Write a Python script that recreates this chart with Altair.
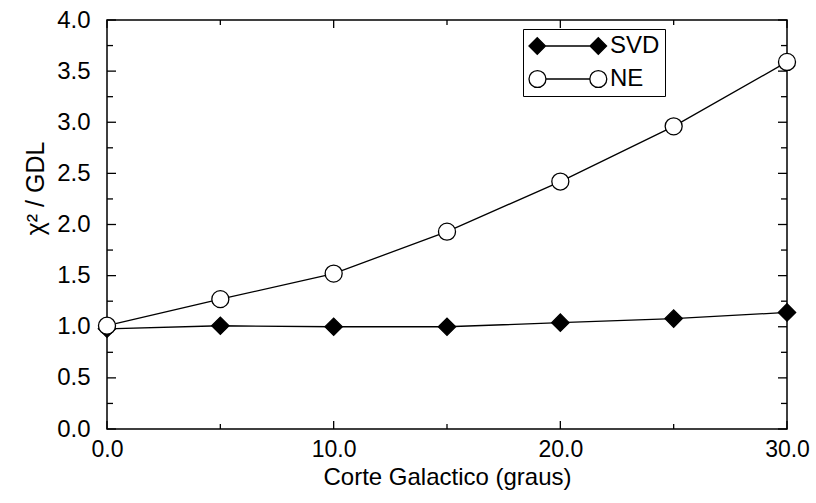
import altair as alt
import pandas as pd

# ---- data ----
cut_deg = [0, 5, 10, 15, 20, 25, 30]
svd_vals = [0.98, 1.01, 1.00, 1.00, 1.04, 1.08, 1.14]
ne_vals = [1.01, 1.27, 1.52, 1.93, 2.42, 2.96, 3.59]
series_names = ["SVD", "NE"]
x_major = [0, 10, 20, 30]
x_minor = [5, 15, 25]
y_major = [0.0, 0.5, 1.0, 1.5, 2.0, 2.5, 3.0, 3.5, 4.0]
y_minor = [0.25, 0.75, 1.25, 1.75, 2.25, 2.75, 3.25, 3.75]

rows = []
for name, vals in zip(series_names, [svd_vals, ne_vals]):
    for xv, yv in zip(cut_deg, vals):
        rows.append({"x": xv, "y": yv, "series": name})
df = pd.DataFrame(rows)

W, H = 680, 409
FONT = "Liberation Sans"
xs = alt.Scale(domain=[0, 30], nice=False, zero=False)
ys = alt.Scale(domain=[0, 4], nice=False, zero=False)

x_axis = alt.Axis(values=x_major, format=".1f", grid=False, domain=False, ticks=False,
                  labelFlush=False, labelOverlap=False,
                  labelFont=FONT, labelFontSize=23, labelColor="black", labelPadding=9,
                  title="Corte Galactico (graus)", titleFont=FONT, titleFontSize=24,
                  titleFontWeight="normal", titleColor="black",
                  titleBaseline="alphabetic", titleY=55)
y_axis = alt.Axis(values=y_major, format=".1f", grid=False, domain=False, ticks=False,
                  labelFlush=False, labelOverlap=False,
                  labelFont=FONT, labelFontSize=24, labelColor="black", labelPadding=17,
                  title="χ² / GDL", titleFont=FONT, titleFontSize=25,
                  titleFontWeight="normal", titleColor="black",
                  titleAngle=270, titleAlign="center",
                  titleBaseline="alphabetic", titleX=-64, titleY=168)

# legend symbols: marker - line - marker (path in symbol units)
svd_path = ("M-1,0L-0.25,-0.75L0.5,0L-0.25,0.75Z M0.5,0L4.55,0 "
            "M4.55,0L5.3,-0.75L6.05,0L5.3,0.75Z")
ne_path = ("M-1,0A0.77,0.77,0,1,0,0.54,0A0.77,0.77,0,1,0,-1,0Z M0.54,0L4.53,0 "
           "M4.53,0A0.77,0.77,0,1,0,6.07,0A0.77,0.77,0,1,0,4.53,0Z")

legend_kw = dict(
    title=None, orient="none", legendX=416, legendY=9,
    strokeColor="black", fillColor="white", padding=5,
    symbolSize=484, symbolStrokeWidth=1.3, symbolOpacity=1,
    labelFont="Liberation Sans Narrow, Liberation Sans",
    labelFontSize=24, labelColor="black", labelOffset=58, rowPadding=9,
)

base = alt.Chart(df)

lines = base.mark_line(color="black", strokeWidth=1.3).encode(
    x=alt.X("x:Q", scale=xs, axis=x_axis),
    y=alt.Y("y:Q", scale=ys, axis=y_axis),
    detail="series:N",
)

svd_pts = base.transform_filter(alt.datum.series == "SVD").mark_point(
    shape="diamond", filled=True, fill="black", stroke="black",
    strokeWidth=1.3, opacity=1, size=300,
).encode(x=alt.X("x:Q", scale=xs), y=alt.Y("y:Q", scale=ys))

ne_pts = base.transform_filter(alt.datum.series == "NE").mark_point(
    shape="circle", filled=True, fill="white", stroke="black",
    strokeWidth=1.3, opacity=1, size=290,
).encode(x=alt.X("x:Q", scale=xs), y=alt.Y("y:Q", scale=ys))

legend_layer = base.transform_filter("false").mark_point(
    filled=True, strokeWidth=1.3,
).encode(
    x=alt.X("x:Q", scale=xs),
    y=alt.Y("y:Q", scale=ys),
    shape=alt.Shape("series:N", scale=alt.Scale(domain=series_names, range=[svd_path, ne_path]),
                    legend=alt.Legend(**legend_kw)),
    fill=alt.Fill("series:N", scale=alt.Scale(domain=series_names, range=["black", "white"]),
                  legend=alt.Legend(**legend_kw)),
    stroke=alt.Stroke("series:N", scale=alt.Scale(domain=series_names, range=["black", "black"]),
                      legend=alt.Legend(**legend_kw)),
)


def xticks(values, y0, y1):
    return alt.Chart(pd.DataFrame({"v": values})).mark_rule(
        color="black", strokeWidth=1.3).encode(
        x=alt.X("v:Q", scale=xs), y=alt.value(y0), y2=alt.value(y1))


def yticks(values, x0, x1):
    return alt.Chart(pd.DataFrame({"v": values})).mark_rule(
        color="black", strokeWidth=1.3).encode(
        y=alt.Y("v:Q", scale=ys), x=alt.value(x0), x2=alt.value(x1))


ticks = [
    xticks(x_major, H, H - 8), xticks(x_minor, H, H - 5),
    xticks(x_major, 0, 8), xticks(x_minor, 0, 5),
    yticks(y_major, 0, 9), yticks(y_minor, 0, 6),
    yticks(y_major, W, W - 9), yticks(y_minor, W, W - 6),
]

chart = alt.layer(lines, *ticks, svd_pts, ne_pts, legend_layer).properties(
    width=W, height=H,
    autosize=alt.AutoSizeParams(type="none"),
    padding={"left": 107, "top": 20, "right": 29, "bottom": 74},
    background="white",
).configure_view(stroke="black", strokeWidth=1.5)

chart.save("out.html", embed_options={"renderer": "svg", "actions": False})
